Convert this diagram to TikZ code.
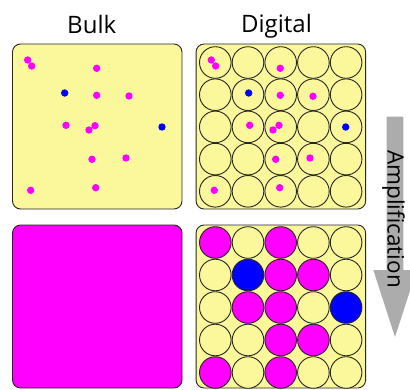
\documentclass[tikz,border=0pt]{standalone}
\usepackage{fontspec}
\newfontfamily\labfont{Open Sans}
\definecolor{cy}{RGB}{250,248,155}
\definecolor{cm}{RGB}{255,0,255}
\definecolor{cb}{RGB}{0,0,255}
\definecolor{arrowgray}{RGB}{172,172,172}
\begin{document}
\begin{tikzpicture}[x=1pt,y=-1pt,
  panel/.style={draw=black!85, line width=0.9pt, rounded corners=8pt, minimum width=169.5pt, inner sep=0pt, outer sep=0pt},
  well/.style={circle, draw=black!85, line width=0.9pt, minimum size=31.6pt, inner sep=0pt, outer sep=0pt},
  dot/.style={circle, fill=#1, minimum size=7.4pt, inner sep=0pt},
  titletext/.style={anchor=base, font=\labfont\fontsize{24}{24}\selectfont}
]
\useasboundingbox (0,0) rectangle (410,389);
\clip (0,0) rectangle (410,389);
% panels
\node[panel, fill=cy, minimum height=165pt] (bulktop) at (97.25,126.5) {};
\node[panel, fill=cy, minimum height=165pt] (digtop) at (280.85,126.5) {};
\node[panel, fill=cm, minimum height=163pt] (bulkbot) at (97.25,306.5) {};
\node[panel, fill=cy, minimum height=163pt] (digbot) at (280.85,306.5) {};
% titles
\node[titletext] (bulk) at (91.7,33.2) {Bulk};
\node[titletext] (digital) at (276.5,32.5) {Digital};
% bulk dots
\foreach \x/\y/\f [count=\i] in {27.7/60/m,31.7/66/m,96.7/68.3/m,64.7/93/b,96.7/95.3/m,129/96/m,66/125.3/m,95/125.7/m,89/130/m,162/127/b,92/159.3/m,126/158/m,30.7/190.3/m,95.7/187.7/m}
  \node[dot=c\f] (bd\i) at (\x,\y) {};
% top digital wells
\foreach \r in {1,...,5}
  \foreach \c in {1,...,5}
    \node[well, fill=cy] (t\r\c) at ({215.3+32.7*(\c-1)},{62.5+32.2*(\r-1)}) {};
% digital dots
\foreach \x/\y/\f [count=\i] in {211.3/60/m,215.7/66/m,280.3/68.3/m,248.7/93/b,280.3/95.3/m,313/96.3/m,249.7/125.3/m,279/125.3/m,273/130/m,345.7/127/b,275.7/159.3/m,310/158/m,214.3/190.3/m,279.7/187.7/m}
  \node[dot=c\f] (dd\i) at (\x,\y) {};
% bottom digital wells
\foreach \f [count=\i] in {m,y,m,y,y, y,b,m,m,y, y,m,m,y,b, y,y,m,m,y, m,y,m,y,y} {
  \pgfmathtruncatemacro\r{int((\i-1)/5)}
  \pgfmathtruncatemacro\c{mod(\i-1,5)}
  \node[well, fill=c\f] (b\i) at ({215.3+32.7*\c},{242.5+32.5*\r}) {};
}
% amplification arrow
\fill[arrowgray] (386.7,116.7) -- (403.3,116.7) -- (403.3,270) -- (416.7,270) -- (395,337) -- (373.3,270) -- (386.7,270) -- cycle;
\node[rotate=-90, font=\labfont\fontsize{22.5}{22.5}\selectfont, inner sep=0pt] (amp) at (393.5,219) {Amplification};
\end{tikzpicture}
\end{document}
